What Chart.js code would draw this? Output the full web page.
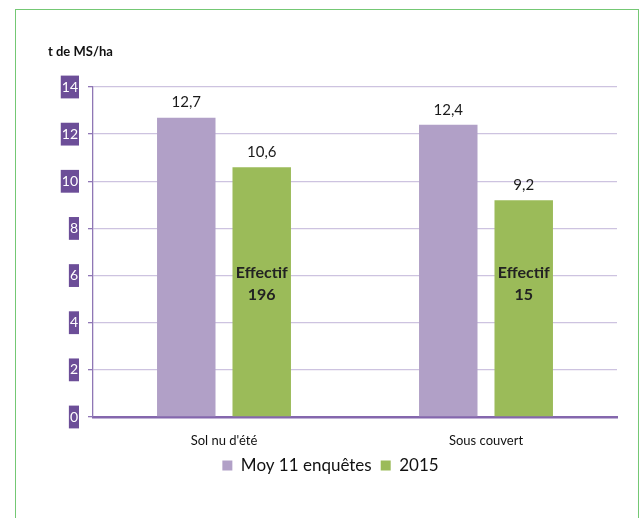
<!DOCTYPE html>
<html>
<head>
<meta charset="utf-8">
<script src="https://cdn.jsdelivr.net/npm/chart.js@4"></script>
<style>
  html, body { margin: 0; padding: 0; background: #fff; }
  #wrap { position: relative; width: 643px; height: 518px; }
  #frame { position: absolute; left: 15px; top: 9px; width: 624px; height: 540px; border: 1.5px solid #74c874; box-sizing: border-box; }
  canvas { position: absolute; left: 0; top: 0; }
</style>
</head>
<body>
<div id="wrap">
  <div id="frame"></div>
  <canvas id="c" width="643" height="518"></canvas>
</div>
<script>
const categories = ["Sol nu d'été", "Sous couvert"];
const seriesNames = ["Moy 11 enquêtes", "2015"];
const moy11 = [12.7, 12.4];
const y2015 = [10.6, 9.2];
const effectifs = [196, 15];
const yTicks = [0, 2, 4, 6, 8, 10, 12, 14];
const yTitle = "t de MS/ha";

const FONT = "Lato, 'Open Sans', sans-serif";

const labelPlugin = {
  id: 'labels',
  afterDatasetsDraw(chart) {
    const ctx = chart.ctx;
    const yScale = chart.scales.y;
    ctx.save();
    ctx.fillStyle = '#1a1a1a';
    ctx.textAlign = 'center';
    ctx.textBaseline = 'middle';
    ctx.font = "15px " + FONT;
    chart.data.datasets.forEach((ds, di) => {
      const meta = chart.getDatasetMeta(di);
      meta.data.forEach((bar, i) => {
        const v = ds.data[i];
        ctx.fillText(String(v).replace('.', ','), bar.x, bar.y - 15);
      });
    });
    const meta = chart.getDatasetMeta(1);
    ctx.font = "bold 16px " + FONT;
    ctx.fillStyle = '#222';
    meta.data.forEach((bar, i) => {
      const y1 = yScale.getPixelForValue(0) - 144;
      ctx.fillText('Effectif', bar.x, y1);
      ctx.fillText(String(effectifs[i]), bar.x, y1 + 22);
    });
    ctx.restore();
  }
};

const titlePlugin = {
  id: 'ytitle',
  afterDraw(chart) {
    const ctx = chart.ctx;
    ctx.save();
    ctx.font = "bold 13px " + FONT;
    ctx.fillStyle = '#111';
    ctx.textAlign = 'left';
    ctx.textBaseline = 'middle';
    ctx.fillText(yTitle, 48, 52);
    ctx.restore();
  }
};

new Chart(document.getElementById('c'), {
  type: 'bar',
  data: {
    labels: categories,
    datasets: [
      { label: seriesNames[0], data: moy11, backgroundColor: '#b1a0c7', barPercentage: 0.775, categoryPercentage: 0.576 },
      { label: seriesNames[1], data: y2015, backgroundColor: '#9bbb59', barPercentage: 0.775, categoryPercentage: 0.576 }
    ]
  },
  options: {
    responsive: false,
    animation: false,
    layout: { padding: { left: 44, right: 26, top: 87, bottom: 34 } },
    plugins: {
      legend: {
        position: 'bottom',
        labels: {
          font: { family: FONT, size: 17 },
          color: '#111',
          boxWidth: 10,
          boxHeight: 10,
          padding: 9
        }
      },
      tooltip: { enabled: false },
      title: { display: false }
    },
    scales: {
      x: {
        grid: { display: false, drawTicks: false },
        border: { color: '#8467ad', width: 2.5 },
        ticks: { font: { family: FONT, size: 13 }, color: '#111', padding: 16 },
        afterFit(scale) { scale.height = 31; }
      },
      y: {
        min: 0, max: 14,
        afterBuildTicks(scale) { scale.ticks = yTicks.map(v => ({ value: v })); },
        grid: { color: '#cdc3e0', lineWidth: 1.3, tickLength: 5, tickColor: '#8f77b5', drawOnChartArea: true },
        border: { color: '#8f77b5', width: 1.3 },
        ticks: {
          font: { family: FONT, size: 14 },
          color: '#ffffff',
          padding: 10,
          showLabelBackdrop: true,
          backdropColor: '#6c4e98',
          backdropPadding: { left: 1, right: 1, top: 3, bottom: 3 }
        },
        afterFit(scale) { scale.width = 49; }
      }
    }
  },
  plugins: [labelPlugin, titlePlugin]
});
</script>
</body>
</html>
